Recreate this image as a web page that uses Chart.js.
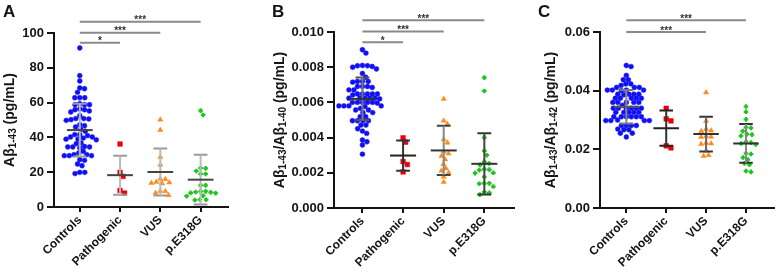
<!DOCTYPE html>
<html><head><meta charset="utf-8">
<script src="https://cdn.jsdelivr.net/npm/chart.js@4/dist/chart.umd.min.js"></script>
<style>
html,body{margin:0;padding:0;background:#fff;}
#wrap{position:relative;width:778px;height:278px;overflow:hidden;background:#fff;}
canvas{position:absolute;top:0;}
</style></head><body>
<div id="wrap">
<canvas id="cA" width="260" height="278" style="left:0px"></canvas>
<canvas id="cB" width="260" height="278" style="left:260px"></canvas>
<canvas id="cC" width="258" height="278" style="left:520px"></canvas>
</div>
<script>
const categories = ['Controls', 'Pathogenic', 'VUS', 'p.E318G'];

// Panel A: Aβ1-43 (pg/mL)
const aControls = [91.4, 75.5, 72.4, 68.4, 68.0, 65.9, 62.8, 62.8, 62.8, 59.4, 58.8, 58.8, 58.8, 56.3, 55.9, 55.9, 55.2, 54.6, 52.5, 50.8, 50.8, 50.6, 50.2, 49.8, 47.3, 46.7, 46.0, 44.6, 43.5, 41.6, 41.6, 41.0, 40.2, 40.2, 39.6, 39.0, 39.0, 38.6, 36.8, 36.4, 34.8, 34.5, 34.5, 34.5, 33.9, 32.0, 31.0, 30.1, 30.1, 29.5, 29.5, 29.5, 27.2, 26.8, 24.7, 23.7, 19.9, 19.9, 19.2];
const aPathogenic = [36.2, 19.9, 17.6, 9.5, 8.0];
const aVUS = [50.2, 44.2, 28.7, 24.3, 16.2, 16.0, 14.3, 14.1, 13.8, 13.5, 9.2, 9.0, 8.0, 6.8];
const aE318G = [55.4, 52.9, 22.4, 22.2, 20.7, 19.0, 19.0, 12.4, 12.4, 9.0, 9.0, 8.6, 8.4, 8.1, 8.0, 6.5, 6.2, 4.3, 4.2, 4.0];
const aMean = [44.2, 18.3, 20.1, 15.7];
const aSD = [15.2, 11.2, 13.5, 14.3];
const aTicks = [0, 20, 40, 60, 80, 100];
const aTickLabels = ['0', '20', '40', '60', '80', '100'];
const aSigLevels = [106.5, 100.2, 94.4];
const aSigTo = [3, 2, 1];
const aSigStars = ['***', '***', '*'];

// Panel B: Aβ1-43/Aβ1-40
const bControls = [0.00899, 0.00880, 0.00810, 0.00808, 0.00808, 0.00804, 0.00800, 0.00790, 0.00764, 0.00743, 0.00719, 0.00719, 0.00719, 0.00715, 0.00690, 0.00690, 0.00690, 0.00685, 0.00671, 0.00671, 0.00648, 0.00648, 0.00648, 0.00648, 0.00648, 0.00642, 0.00624, 0.00624, 0.00624, 0.00624, 0.00624, 0.00620, 0.00600, 0.00600, 0.00600, 0.00600, 0.00600, 0.00596, 0.00580, 0.00580, 0.00580, 0.00580, 0.00576, 0.00566, 0.00557, 0.00557, 0.00542, 0.00542, 0.00519, 0.00519, 0.00496, 0.00496, 0.00496, 0.00496, 0.00471, 0.00471, 0.00450, 0.00437, 0.00424, 0.00386, 0.00376, 0.00358, 0.00306];
const bPathogenic = [0.00399, 0.00374, 0.00264, 0.00247, 0.00205];
const bVUS = [0.00620, 0.00496, 0.00477, 0.00390, 0.00371, 0.00321, 0.00310, 0.00295, 0.00276, 0.00249, 0.00224, 0.00211, 0.00200, 0.00177, 0.00148];
const bE318G = [0.00741, 0.00665, 0.00400, 0.00325, 0.00300, 0.00262, 0.00253, 0.00245, 0.00220, 0.00218, 0.00215, 0.00200, 0.00198, 0.00177, 0.00140, 0.00140, 0.00138, 0.00122, 0.00090, 0.00086, 0.00076];
const bMean = [0.00620, 0.00298, 0.00327, 0.00251];
const bSD = [0.00122, 0.00086, 0.00140, 0.00174];
const bTicks = [0, 0.002, 0.004, 0.006, 0.008, 0.010];
const bTickLabels = ['0.000', '0.002', '0.004', '0.006', '0.008', '0.010'];
const bSigLevels = [0.01067, 0.01003, 0.00942];
const bSigTo = [3, 2, 1];
const bSigStars = ['***', '***', '*'];

// Panel C: Aβ1-43/Aβ1-42
const cControls = [0.0486, 0.0482, 0.0452, 0.0437, 0.0437, 0.0423, 0.0423, 0.0418, 0.0411, 0.0411, 0.0411, 0.0402, 0.0402, 0.0402, 0.0402, 0.0400, 0.0388, 0.0388, 0.0388, 0.0388, 0.0386, 0.0374, 0.0374, 0.0374, 0.0374, 0.0374, 0.0360, 0.0360, 0.0360, 0.0360, 0.0360, 0.0350, 0.0340, 0.0340, 0.0340, 0.0340, 0.0340, 0.0340, 0.0326, 0.0326, 0.0326, 0.0326, 0.0326, 0.0311, 0.0311, 0.0311, 0.0311, 0.0311, 0.0311, 0.0300, 0.0298, 0.0298, 0.0298, 0.0298, 0.0281, 0.0281, 0.0281, 0.0281, 0.0269, 0.0267, 0.0267, 0.0255, 0.0255, 0.0242];
const cPathogenic = [0.0340, 0.0304, 0.0297, 0.0212, 0.0205];
const cVUS = [0.0394, 0.0297, 0.0269, 0.0264, 0.0262, 0.0245, 0.0243, 0.0242, 0.0222, 0.0220, 0.0218, 0.0195, 0.0180, 0.0177];
const cE318G = [0.0346, 0.0328, 0.0302, 0.0275, 0.0273, 0.0262, 0.0252, 0.0250, 0.0246, 0.0226, 0.0223, 0.0220, 0.0217, 0.0186, 0.0184, 0.0172, 0.0165, 0.0152, 0.0148, 0.0126, 0.0123];
const cMean = [0.0345, 0.0272, 0.0252, 0.0220];
const cSD = [0.0057, 0.0060, 0.0059, 0.0066];
const cTicks = [0, 0.02, 0.04, 0.06];
const cTickLabels = ['0.00', '0.02', '0.04', '0.06'];
const cSigLevels = [0.0640, 0.0600];
const cSigTo = [3, 2];
const cSigStars = ['***', '***'];

// ---- styling ----
const FONT = '"Liberation Sans", Arial, Helvetica, sans-serif';
const INK = '#141414';
const markerStyles = [
  { pointStyle: 'circle', color: '#1010f2', radius: 2.45, bw: 0.5, D: 4.8 },
  { pointStyle: 'rect', color: '#e8000b', radius: 3.3, bw: 0.5, D: 5.0 },
  { pointStyle: 'triangle', color: '#ff8a1c', radius: 3.0, bw: 0.5, D: 5.0 },
  { pointStyle: 'cross', color: '#1fc41f', radius: 2.3, bw: 2.2, D: 5.0 }
];

function swarm(values, yScale, D) {
  const pts = values.map((v, k) => ({ v, k, py: yScale.getPixelForValue(v) }));
  const order = pts.slice().sort((a, b) => b.v - a.v);
  const placed = [];
  const offs = new Array(values.length).fill(0);
  for (const p of order) {
    let best = 0, found = false;
    for (let s = 0; s < 400 && !found; s++) {
      const cands = s === 0 ? [0] : [s * 0.25, -s * 0.25];
      for (const dx of cands) {
        let ok = true;
        for (const q of placed) {
          const ex = dx - q.dx, ey = p.py - q.py;
          if (ex * ex + ey * ey < D * D - 1e-6) { ok = false; break; }
        }
        if (ok) { best = dx; found = true; break; }
      }
    }
    placed.push({ dx: best, py: p.py });
    offs[p.k] = best;
  }
  return offs;
}

function buildPanel(cfg) {
  const MEAN_W = 0.32, CAP_W = 0.17;
  const datasets = [];
  cfg.groups.forEach((vals, gi) => {
    const m = markerStyles[gi];
    datasets.push({
      type: 'scatter',
      data: vals.map(v => ({ x: gi, y: v })),
      pointStyle: m.pointStyle,
      pointRadius: m.radius,
      pointHoverRadius: m.radius,
      backgroundColor: m.color,
      borderColor: m.color,
      pointBorderWidth: m.bw,
      borderWidth: m.bw,
      order: 2
    });
  });
  cfg.groups.forEach((vals, gi) => {
    const mu = cfg.means[gi], sd = cfg.sds[gi];
    const col = cfg.errColors[gi];
    const base = { type: 'line', showLine: true, pointRadius: 0, pointHoverRadius: 0, borderWidth: 2, spanGaps: false, fill: false, order: 1, borderCapStyle: 'butt' };
    datasets.push(Object.assign({}, base, { borderColor: col.vert, data: [{ x: gi, y: mu - sd }, { x: gi, y: mu + sd }] }));
    datasets.push(Object.assign({}, base, { borderColor: col.cap, data: [{ x: gi - CAP_W, y: mu + sd }, { x: gi + CAP_W, y: mu + sd }, { x: gi, y: null }, { x: gi - CAP_W, y: mu - sd }, { x: gi + CAP_W, y: mu - sd }] }));
    datasets.push(Object.assign({}, base, { borderColor: col.mean, order: 0, data: [{ x: gi - MEAN_W, y: mu }, { x: gi + MEAN_W, y: mu }] }));
  });
  cfg.sigLevels.forEach((lv, si) => {
    datasets.push({ type: 'line', showLine: true, pointRadius: 0, borderWidth: 2, borderColor: '#8a8a8a', clip: false, order: 0,
      data: [{ x: 0, y: lv }, { x: cfg.sigTo[si], y: lv }] });
  });

  const decor = {
    id: 'decor',
    afterDraw(chart) {
      const ctx = chart.ctx, ca = chart.chartArea;
      const xs = chart.scales.x, ys = chart.scales.y;
      ctx.save();
      ctx.fillStyle = '#333';
      ctx.font = 'bold 10px ' + FONT;
      ctx.textAlign = 'center';
      ctx.textBaseline = 'alphabetic';
      cfg.sigLevels.forEach((lv, si) => {
        const x = (xs.getPixelForValue(0) + xs.getPixelForValue(cfg.sigTo[si])) / 2;
        ctx.fillText(cfg.sigStars[si], x, ys.getPixelForValue(lv) + 1.5);
      });
      ctx.textAlign = 'left';
      ctx.fillStyle = INK;
      ctx.font = 'bold 17px ' + FONT;
      ctx.fillText(cfg.letter, cfg.letterX, 17);
      ctx.translate(cfg.titleX, (ca.top + ca.bottom) / 2);
      ctx.rotate(-Math.PI / 2);
      const mainF = 'bold 14px ' + FONT, subF = 'bold 10px ' + FONT;
      let total = 0;
      cfg.title.forEach(s => { ctx.font = s.sub ? subF : mainF; s.w = ctx.measureText(s.t).width; total += s.w; });
      let x = -total / 2;
      ctx.textBaseline = 'middle';
      cfg.title.forEach(s => { ctx.font = s.sub ? subF : mainF; ctx.fillText(s.t, x, s.sub ? 3.5 : 0); x += s.w; });
      ctx.restore();
    }
  };

  const chart = new Chart(document.getElementById(cfg.canvas), {
    type: 'scatter',
    data: { datasets },
    options: {
      responsive: false,
      animation: false,
      devicePixelRatio: 1,
      layout: { padding: { left: 0, top: cfg.top, right: cfg.right, bottom: 0 } },
      plugins: { legend: { display: false }, tooltip: { enabled: false } },
      scales: {
        x: {
          type: 'linear', min: cfg.xMin, max: cfg.xMax,
          afterBuildTicks: s => { s.ticks = categories.map((c, i) => ({ value: i })); },
          afterFit: s => { s.height = cfg.xHeight; },
          ticks: { autoSkip: false, minRotation: 45, maxRotation: 45, padding: 1, color: INK,
            font: { family: FONT, size: 12, weight: 'bold' },
            callback: (v, i) => categories[i] },
          grid: { display: true, drawOnChartArea: false, drawTicks: true, tickLength: 5, color: INK, lineWidth: 2 },
          border: { display: true, color: INK, width: 2 }
        },
        y: {
          type: 'linear', min: cfg.ticks[0], max: cfg.ticks[cfg.ticks.length - 1],
          afterBuildTicks: s => { s.ticks = cfg.ticks.map(v => ({ value: v })); },
          afterFit: s => { s.width = cfg.axisX; },
          ticks: { padding: 3, color: INK, font: { family: FONT, size: 13, weight: 'bold' },
            callback: (v, i) => cfg.tickLabels[i] },
          grid: { display: true, drawOnChartArea: false, drawTicks: true, tickLength: 7, color: INK, lineWidth: 2 },
          border: { display: true, color: INK, width: 2 }
        }
      }
    },
    plugins: [decor]
  });

  const xs = chart.scales.x, ys = chart.scales.y;
  const ppu = xs.getPixelForValue(1) - xs.getPixelForValue(0);
  cfg.groups.forEach((vals, gi) => {
    const offs = swarm(vals, ys, markerStyles[gi].D);
    chart.data.datasets[gi].data = vals.map((v, k) => ({ x: gi + offs[k] / ppu, y: v }));
  });
  chart.update('none');
  return chart;
}

const errA = [0, 1, 2, 3].map(() => ({ mean: '#444', cap: '#9a9a9a', vert: '#b9b9b9' }));
const errB = [
  { mean: '#333', cap: '#555', vert: '#777' },
  { mean: '#222', cap: '#333', vert: '#333' },
  { mean: '#333', cap: '#444', vert: '#888' },
  { mean: '#333', cap: '#333', vert: '#444' }
];
const errC = [
  { mean: '#555', cap: '#777', vert: '#888' },
  { mean: '#222', cap: '#222', vert: '#333' },
  { mean: '#333', cap: '#333', vert: '#666' },
  { mean: '#333', cap: '#333', vert: '#888' }
];

buildPanel({
  canvas: 'cA', groups: [aControls, aPathogenic, aVUS, aE318G], means: aMean, sds: aSD,
  ticks: aTicks, tickLabels: aTickLabels, sigLevels: aSigLevels, sigTo: aSigTo, sigStars: aSigStars,
  errColors: errA, axisX: 54, top: 33, right: 32, xHeight: 71, xMin: -0.64, xMax: 3.68,
  titleX: 10, letter: 'A', letterX: 3,
  title: [{ t: 'Aβ' }, { t: '1-43', sub: true }, { t: ' (pg/mL)' }]
});
buildPanel({
  canvas: 'cB', groups: [bControls, bPathogenic, bVUS, bE318G], means: bMean, sds: bSD,
  ticks: bTicks, tickLabels: bTickLabels, sigLevels: bSigLevels, sigTo: bSigTo, sigStars: bSigStars,
  errColors: errB, axisX: 74, top: 32, right: 6, xHeight: 70, xMin: -0.70, xMax: 3.73,
  titleX: 20, letter: 'B', letterX: 12,
  title: [{ t: 'Aβ' }, { t: '1-43', sub: true }, { t: '/Aβ' }, { t: '1-40', sub: true }, { t: ' (pg/mL)' }]
});
buildPanel({
  canvas: 'cC', groups: [cControls, cPathogenic, cVUS, cE318G], means: cMean, sds: cSD,
  ticks: cTicks, tickLabels: cTickLabels, sigLevels: cSigLevels, sigTo: cSigTo, sigStars: cSigStars,
  errColors: errC, axisX: 80, top: 32, right: 1, xHeight: 70, xMin: -0.66, xMax: 3.69,
  titleX: 31, letter: 'C', letterX: 18,
  title: [{ t: 'Aβ' }, { t: '1-43', sub: true }, { t: '/Aβ' }, { t: '1-42', sub: true }, { t: ' (pg/mL)' }]
});
</script>
</body></html>
